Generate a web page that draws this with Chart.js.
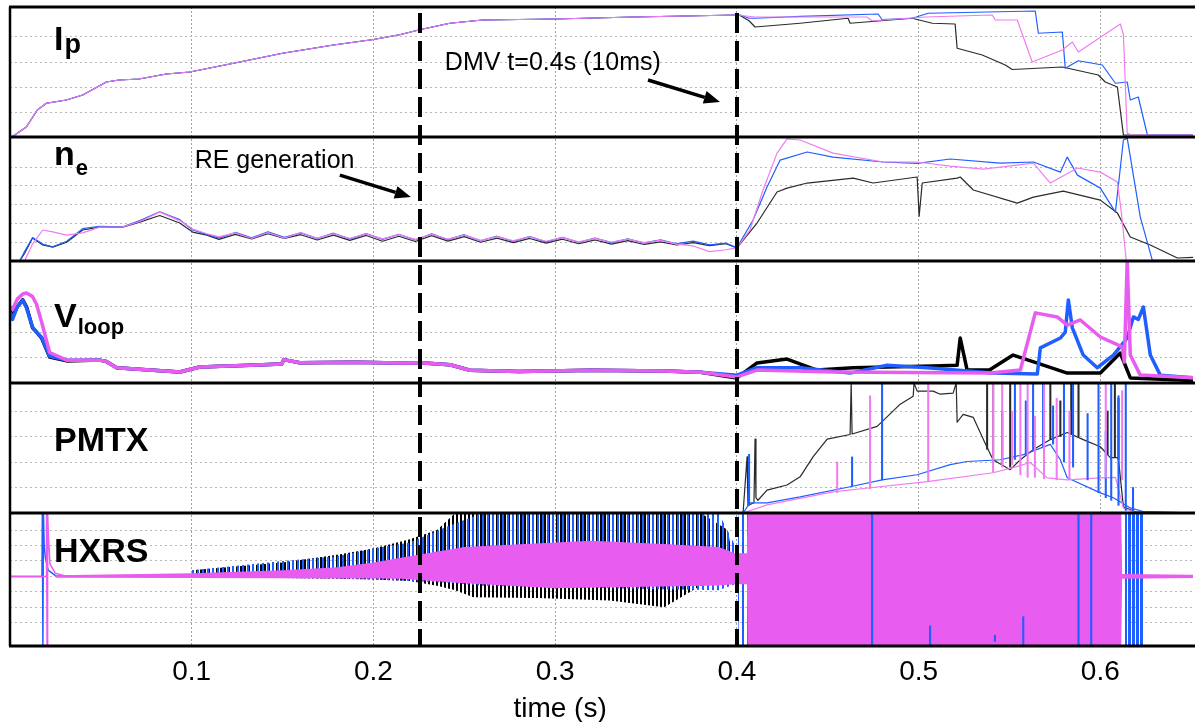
<!DOCTYPE html>
<html lang="en">
<head>
<meta charset="UTF-8">
<title>Discharge overview</title>
<script src="https://cdn.jsdelivr.net/npm/chart.js"></script>
<style>
body { margin: 0; background: #fff; }
#wrap { width: 1195px; height: 722px; }
</style>
</head>
<body>
<div id="wrap"><canvas id="shot" width="1195" height="722"></canvas></div>
<script>
// ---- time axis ----
const timeTicks = [0.1, 0.2, 0.3, 0.4, 0.5, 0.6];
const markerTimes = [0.2255, 0.4];

// ---- Ip ----
const ipRampTime = [0, 0.001, 0.009, 0.015, 0.020, 0.031, 0.040, 0.053, 0.060, 0.071, 0.086, 0.099, 0.123, 0.150, 0.178, 0.200, 0.215, 0.226, 0.242, 0.260, 0.300, 0.343, 0.400];
const ipRamp = [0, 0, 8, 21.6, 27, 29.6, 33.6, 44, 45.6, 46.4, 50.4, 52, 59, 67, 73.6, 78, 82, 86, 91, 93.6, 94.4, 96, 97.6];
const ipBlackTailTime = [0.402, 0.4067, 0.410, 0.4348, 0.4612, 0.4623, 0.4965, 0.5075, 0.5201, 0.5212, 0.535, 0.5477, 0.5515, 0.5791, 0.5989, 0.6027, 0.6094, 0.6127, 0.651];
const ipBlackTail = [97, 93, 88, 91, 95, 91, 95, 91, 90.4, 71, 65.6, 57.6, 54, 56, 49.6, 44, 40, 1.6, 1.6];
const ipBlueTailTime = [0.402, 0.4067, 0.410, 0.435, 0.4777, 0.4799, 0.4965, 0.5053, 0.5642, 0.5659, 0.5791, 0.5807, 0.5879, 0.6011, 0.6083, 0.6148, 0.6165, 0.6209, 0.6259, 0.651];
const ipBlueTail = [97.6, 95, 95, 96.5, 98.4, 94, 95, 99, 100.8, 83, 84, 55, 61, 57.6, 43, 44, 29.6, 32, 1.6, 1.6];
const ipMagTailTime = [0.410, 0.435, 0.4715, 0.4744, 0.5036, 0.5405, 0.5422, 0.5543, 0.5625, 0.5791, 0.5846, 0.5879, 0.611, 0.6127, 0.6148, 0.6176, 0.651];
const ipMagTail = [96, 96, 96, 93, 96, 97.6, 93.6, 93.6, 60, 69.6, 76, 68, 90.4, 82, 3, 1.6, 1.6];

// ---- ne ----
const neEarlyTime = [0, 0.0053, 0.008, 0.0124, 0.018, 0.0235, 0.0312, 0.040, 0.0493, 0.062, 0.0714, 0.0824, 0.0934, 0.1005, 0.1083];
const neBlackEarly = [0, 0, 0.4, 1.22, 0.85, 0.74, 1.0, 1.65, 1.8, 1.8, 2.07, 2.42, 2.02, 1.54, 1.38];
const neBlueEarly = [0, 0, 0.5, 1.25, 0.9, 0.76, 1.05, 1.72, 1.85, 1.82, 2.15, 2.62, 2.2, 1.65, 1.42];
const neMagEarly = [0, 0, 0, 0.9, 1.65, 1.55, 1.38, 1.5, 1.8, 1.82, 2.1, 2.6, 2.15, 1.7, 1.45];
const neOscTime = [0.115, 0.124, 0.133, 0.142, 0.151, 0.160, 0.169, 0.178, 0.187, 0.196, 0.205, 0.214, 0.223, 0.232, 0.241, 0.250, 0.259, 0.268, 0.277, 0.286, 0.295, 0.304, 0.313, 0.322, 0.331, 0.340, 0.349, 0.358, 0.367, 0.376, 0.385, 0.394, 0.400];
const neBlackOsc = [1.15, 1.42, 1.18, 1.45, 1.20, 1.40, 1.12, 1.38, 1.10, 1.36, 1.05, 1.32, 1.04, 1.35, 1.06, 1.30, 1.00, 1.22, 0.98, 1.20, 0.95, 1.16, 0.92, 1.12, 0.90, 1.08, 0.88, 1.02, 0.85, 0.98, 0.82, 0.92, 0.70];
const neBlueOsc = [1.22, 1.52, 1.24, 1.55, 1.26, 1.50, 1.20, 1.48, 1.18, 1.46, 1.15, 1.42, 1.12, 1.45, 1.14, 1.40, 1.08, 1.32, 1.05, 1.30, 1.02, 1.26, 1.00, 1.22, 0.98, 1.18, 0.96, 1.12, 0.92, 1.06, 0.86, 0.95, 0.70];
const neMagOsc = [1.28, 1.50, 1.20, 1.52, 1.22, 1.52, 1.22, 1.45, 1.20, 1.44, 1.18, 1.40, 1.15, 1.42, 1.16, 1.38, 1.10, 1.30, 1.08, 1.28, 1.05, 1.24, 1.02, 1.20, 1.00, 1.16, 0.98, 1.10, 0.90, 0.80, 0.50, 0.60, 0.70];
const neBlackTailTime = [0.4111, 0.4221, 0.4276, 0.4387, 0.4640, 0.4750, 0.4992, 0.5003, 0.5020, 0.5212, 0.5229, 0.5301, 0.5543, 0.5632, 0.5796, 0.600, 0.6094, 0.6165, 0.6275, 0.6424, 0.652];
const neBlackTail = [2.02, 3.67, 3.88, 4.15, 4.41, 4.15, 4.47, 2.39, 4.15, 4.41, 4.47, 3.78, 3.08, 3.4, 3.72, 3.24, 2.55, 1.28, 0.85, 0.16, 0.2];
const neBlueTailTime = [0.4089, 0.4166, 0.4238, 0.4387, 0.4529, 0.4805, 0.4992, 0.5174, 0.5449, 0.5632, 0.578, 0.5818, 0.5874, 0.600, 0.6083, 0.6127, 0.6148, 0.622, 0.6286, 0.652];
const neBlueTail = [2.18, 3.94, 5.37, 5.8, 5.53, 5.27, 5.2, 5.43, 5.21, 5.27, 4.73, 5.53, 4.57, 3.88, 2.6, 6.44, 6.54, 2.34, 0.05, 0];
const neMagTailTime = [0.4072, 0.4144, 0.4221, 0.4276, 0.4348, 0.4529, 0.4805, 0.4992, 0.5174, 0.5356, 0.5632, 0.5725, 0.5874, 0.600, 0.6094, 0.6116, 0.6143];
const neMagTail = [1.65, 3.78, 5.74, 6.5, 6.44, 5.74, 5.27, 5.27, 5.05, 4.89, 5.21, 4.15, 4.95, 4.73, 4.2, 2.55, 0];

// ---- Vloop ----
const vlEarlyTime = [0, 0.0014, 0.004, 0.007, 0.0091, 0.0124, 0.0146, 0.0174, 0.0218, 0.0312];
const vlBlackEarly = [2.9, 2.6, 3.0, 3.27, 3.0, 2.17, 2.0, 1.77, 1.02, 0.87];
const vlBlueEarly = [2.8, 2.5, 3.0, 3.25, 2.95, 2.2, 2.0, 1.8, 1.05, 0.9];
const vlMagEarly = [3.0, 2.9, 3.3, 3.5, 3.54, 3.4, 3.1, 2.4, 1.2, 0.9];
const vlMidTime = [0.0493, 0.053, 0.0587, 0.0769, 0.0934, 0.1044, 0.132, 0.1495, 0.1506, 0.1594, 0.19, 0.2145, 0.2256, 0.2421, 0.2531, 0.28, 0.32, 0.36, 0.38];
const vlMid = [0.9, 0.85, 0.6, 0.51, 0.43, 0.63, 0.7, 0.75, 0.92, 0.8, 0.82, 0.79, 0.8, 0.72, 0.5, 0.45, 0.5, 0.47, 0.42];
const vlBlackLateTime = [0.40, 0.4111, 0.4276, 0.444, 0.464, 0.508, 0.5212, 0.5229, 0.5267, 0.539, 0.552, 0.565, 0.5818, 0.60, 0.611, 0.6165, 0.652];
const vlBlackLate = [0.2, 0.79, 0.94, 0.51, 0.6, 0.67, 0.7, 1.77, 0.51, 0.51, 1.1, 0.79, 0.39, 0.39, 1.18, 0.2, 0.1];
const vlBlueLateTime = [0.40, 0.4111, 0.4348, 0.4623, 0.4827, 0.5047, 0.541, 0.5653, 0.567, 0.578, 0.5807, 0.5824, 0.5846, 0.5906, 0.5983, 0.6072, 0.6148, 0.6182, 0.6209, 0.6237, 0.6275, 0.633, 0.652];
const vlBlueLate = [0.31, 0.6, 0.6, 0.39, 0.7, 0.6, 0.39, 0.35, 1.38, 1.77, 2.0, 3.27, 2.17, 1.1, 0.6, 1.1, 1.77, 2.6, 2.5, 2.99, 1.1, 0.31, 0.2];
const vlMagLateTime = [0.40, 0.4111, 0.4529, 0.5394, 0.556, 0.5642, 0.5763, 0.5818, 0.589, 0.60, 0.6121, 0.6132, 0.6148, 0.6165, 0.622, 0.652];
const vlMagLate = [0.24, 0.51, 0.43, 0.39, 0.51, 2.76, 2.6, 2.28, 2.48, 1.81, 1.42, 0.83, 4.8, 1.1, 0.31, 0.2];

// ---- PMTX ----
const pmBlackTime = [0, 0.4034, 0.4056, 0.4061, 0.4094, 0.4100, 0.4105, 0.4116, 0.4166, 0.4276, 0.4348, 0.4419, 0.4497, 0.4623, 0.4629, 0.4634, 0.4772, 0.4899, 0.4970, 0.4975, 0.4992, 0.5080, 0.5119, 0.5190, 0.5207, 0.5212, 0.5245, 0.5301, 0.5377, 0.5410, 0.5504, 0.5560, 0.5632, 0.5725, 0.5818, 0.5906, 0.6000, 0.6055, 0.6099, 0.6127, 0.6193, 0.652];
const pmBlack = [0, 0, 2.2, 0.3, 0.4, 2.9, 0.6, 0.5, 0.9, 1.1, 1.42, 2.2, 2.9, 3.08, 5.1, 3.1, 3.4, 4.27, 4.58, 5.1, 4.78, 4.78, 4.66, 4.7, 5.1, 3.56, 3.87, 3.75, 2.57, 2.09, 1.7, 2.09, 2.49, 2.88, 3.16, 2.88, 2.6, 2.17, 2.17, 0.24, 0.05, 0];
const pmBlueTime = [0, 0.4034, 0.4072, 0.4166, 0.4348, 0.4623, 0.4799, 0.4992, 0.5174, 0.5267, 0.5449, 0.5577, 0.5725, 0.578, 0.5818, 0.6, 0.6072, 0.6165, 0.624, 0.652];
const pmBlue = [0, 0, 0.4, 0.4, 0.63, 1.03, 1.3, 1.5, 1.9, 2.02, 2.09, 2.29, 2.69, 2.09, 1.38, 0.79, 0.6, 0.2, 0.05, 0];
const pmMagTime = [0, 0.4034, 0.4166, 0.4529, 0.4733, 0.5047, 0.541, 0.554, 0.5614, 0.5708, 0.5818, 0.6, 0.6083, 0.6127, 0.6193, 0.652];
const pmMag = [0, 0, 0.32, 0.83, 0.99, 1.23, 1.58, 1.82, 1.98, 1.38, 1.3, 1.38, 1.4, 0.2, 0.02, 0];
const pmBlackSpikeTime = [0.5377, 0.5410, 0.5460, 0.5504, 0.5725, 0.5780, 0.5840, 0.5880, 0.6040, 0.6080, 0.6100];
const pmBlackSpikeLo = [2.5, 2.0, 1.9, 1.8, 2.9, 3.0, 3.1, 3.0, 2.3, 2.2, 2.1];
const pmBlackSpikeHi = [5.1, 5.1, 4.0, 5.1, 5.1, 4.4, 5.1, 5.1, 4.0, 5.1, 4.5];
const pmBlueSpikeTime = [0.4067, 0.4634, 0.4799, 0.553, 0.559, 0.563, 0.5685, 0.574, 0.580, 0.585, 0.593, 0.599, 0.603, 0.606, 0.610, 0.614, 0.618];
const pmBlueSpikeLo = [0.3, 1.05, 1.3, 2.1, 2.3, 2.5, 2.6, 2.7, 2.0, 1.8, 1.3, 0.8, 0.6, 0.5, 0.3, 0.1, 0.1];
const pmBlueSpikeHi = [2.3, 2.2, 5.1, 5.1, 4.4, 5.1, 5.1, 4.2, 5.1, 5.1, 3.9, 5.1, 3.2, 5.1, 4.6, 5.1, 1.0];
const pmMagSpikeTime = [0.4552, 0.4733, 0.5053, 0.5410, 0.5460, 0.5515, 0.5560, 0.5600, 0.5640, 0.5690, 0.5760, 0.5830, 0.6030, 0.6120];
const pmMagSpikeLo = [0.8, 0.95, 1.25, 1.6, 1.8, 1.9, 1.5, 1.4, 1.4, 1.35, 1.3, 1.3, 1.38, 1.3];
const pmMagSpikeHi = [2.0, 4.6, 5.1, 5.1, 5.1, 4.0, 5.1, 5.1, 3.8, 5.1, 4.5, 4.0, 5.1, 4.8];

// ---- HXRS ----
const hxBlueTime = [0, 0.0176, 0.0178, 0.0181, 0.0184, 0.0188, 0.0195, 0.021, 0.025, 0.652];
const hxBlue = [0, 0, 4.1, -4.5, 4.1, 2.0, 1.2, 0.4, 0.05, 0];
const hxMagTime = [0, 0.0199, 0.0201, 0.0204, 0.0207, 0.0212, 0.022, 0.025, 0.03, 0.652];
const hxMag = [0, 0, 4.1, -4.5, 4.1, 2.5, 0.8, 0.2, 0.05, 0.02];
const hxMagBandTime = [0.025, 0.10, 0.15, 0.18, 0.20, 0.215, 0.25, 0.30, 0.32, 0.36, 0.39, 0.399, 0.4055, 0.406, 0.6115, 0.612, 0.652];
const hxMagHi = [0.08, 0.2, 0.4, 0.6, 0.9, 1.2, 1.9, 2.2, 2.3, 2.1, 1.9, 1.5, 1.5, 4.1, 4.1, 0.15, 0.1];
const hxMagLo = [-0.08, -0.1, -0.12, -0.13, -0.13, -0.15, -0.45, -0.77, -0.72, -0.65, -0.58, -0.5, -0.5, -4.5, -4.5, -0.15, -0.1];
const hxBlackBandTime = [0.10, 0.15, 0.18, 0.20, 0.22, 0.235, 0.245, 0.255, 0.29, 0.33, 0.36, 0.37, 0.38, 0.395, 0.399];
const hxBlackHi = [0.4, 0.9, 1.4, 1.8, 2.4, 3.0, 4.1, 4.1, 4.1, 4.1, 4.1, 4.1, 4.1, 3.0, 0.3];
const hxBlackLo = [-0.05, -0.1, -0.15, -0.2, -0.3, -0.6, -0.9, -1.35, -1.4, -1.55, -2.0, -1.3, -0.6, -0.4, -0.2];
const hxBlueBandTime = [0.10, 0.15, 0.18, 0.20, 0.22, 0.24, 0.26, 0.39, 0.399, 0.4005, 0.401, 0.4125, 0.413];
const hxBlueHi = [0.4, 1.0, 1.3, 1.8, 2.2, 3.2, 4.1, 4.1, 2.0, 2.0, 4.1, 4.1, 0];
const hxBlueLo = [-0.05, -0.1, -0.15, -0.2, -0.3, -0.4, -0.6, -0.9, -0.5, -0.5, -4.5, -4.5, 0];
const hxBlueEndTime = [0.6135, 0.618, 0.6205, 0.624];
const hxBlueEndHi = [4.1, 4.1, 4.1, 4.1];
const hxBlueEndLo = [-4.5, -4.5, -4.5, -4.5];
const hxBlueSpikeTime = [0.4744, 0.5063, 0.542, 0.5576, 0.588, 0.595];
const hxBlueSpikeLo = [-4.5, -4.5, -4.2, -4.5, -4.5, -4.5];
const hxBlueSpikeHi = [4.1, -3.2, -3.8, -2.6, 4.1, 4.1];

const FONT = "'Liberation Sans', Arial, sans-serif";
const BLACK = '#2a2a2a';
const BLUE = '#1f5fff';
const PINK = '#f07cf0';
const MAGENTA = '#e85cef';

const canvas = document.getElementById('shot');
const ctx2d = canvas.getContext('2d');

function stripes(color, period, width, offset) {
    const c = document.createElement('canvas');
    c.width = period; c.height = 2;
    const g = c.getContext('2d');
    g.fillStyle = color;
    g.fillRect(offset, 0, width, 2);
    return ctx2d.createPattern(c, 'repeat');
}

function pts(ts, vs) {
    return ts.map((t, i) => ({ x: t, y: vs[i] }));
}

function line(ts, vs, axis, color, width) {
    return { type: 'line', data: pts(ts, vs), yAxisID: axis, borderColor: color, borderWidth: width,
             pointRadius: 0, fill: false, tension: 0, borderJoinStyle: 'round' };
}

// hi + lo pair, area between them filled
function band(ts, hi, lo, axis, fillStyle) {
    return [
        { type: 'line', data: pts(ts, hi), yAxisID: axis, borderWidth: 0, pointRadius: 0, tension: 0,
          fill: '+1', backgroundColor: fillStyle },
        { type: 'line', data: pts(ts, lo), yAxisID: axis, borderWidth: 0, pointRadius: 0, tension: 0, fill: false }
    ];
}

function spikes(ts, lo, hi, axis, color) {
    return { type: 'bar', data: ts.map((t, i) => ({ x: t, y: [lo[i], hi[i]] })), yAxisID: axis,
             backgroundColor: color, barThickness: 1.4, grouped: false };
}

const datasets = [
    // Ip
    line(ipRampTime.concat(ipMagTailTime), ipRamp.concat(ipMagTail), 'yIp', PINK, 1.2),
    line(ipRampTime.concat(ipBlueTailTime), ipRamp.concat(ipBlueTail), 'yIp', BLUE, 1.2),
    line(ipRampTime.concat(ipBlackTailTime), ipRamp.concat(ipBlackTail), 'yIp', BLACK, 1.2),
    // ne
    line(neEarlyTime.concat(neOscTime, neMagTailTime), neMagEarly.concat(neMagOsc, neMagTail), 'yNe', PINK, 1.2),
    line(neEarlyTime.concat(neOscTime, neBlueTailTime), neBlueEarly.concat(neBlueOsc, neBlueTail), 'yNe', BLUE, 1.2),
    line(neEarlyTime.concat(neOscTime, neBlackTailTime), neBlackEarly.concat(neBlackOsc, neBlackTail), 'yNe', BLACK, 1.2),
    // Vloop
    line(vlEarlyTime.concat(vlMidTime, vlMagLateTime), vlMagEarly.concat(vlMid, vlMagLate), 'yVl', MAGENTA, 3.5),
    line(vlEarlyTime.concat(vlMidTime, vlBlueLateTime), vlBlueEarly.concat(vlMid, vlBlueLate), 'yVl', BLUE, 3.5),
    line(vlEarlyTime.concat(vlMidTime, vlBlackLateTime), vlBlackEarly.concat(vlMid, vlBlackLate), 'yVl', '#000', 3.5),
    // PMTX
    spikes(pmMagSpikeTime, pmMagSpikeLo, pmMagSpikeHi, 'yPm', PINK),
    spikes(pmBlueSpikeTime, pmBlueSpikeLo, pmBlueSpikeHi, 'yPm', BLUE),
    spikes(pmBlackSpikeTime, pmBlackSpikeLo, pmBlackSpikeHi, 'yPm', BLACK),
    line(pmMagTime, pmMag, 'yPm', PINK, 1.2),
    line(pmBlueTime, pmBlue, 'yPm', BLUE, 1.2),
    line(pmBlackTime, pmBlack, 'yPm', BLACK, 1.2),
    // HXRS
    spikes(hxBlueSpikeTime, hxBlueSpikeLo, hxBlueSpikeHi, 'yHx', BLUE),
    line(hxMagTime, hxMag, 'yHx', MAGENTA, 1.5),
    ...band(hxMagBandTime, hxMagHi, hxMagLo, 'yHx', MAGENTA),
    ...band(hxBlueEndTime, hxBlueEndHi, hxBlueEndLo, 'yHx', stripes(BLUE, 4, 3, 0)),
    line(hxBlueTime, hxBlue, 'yHx', BLUE, 1.5),
    ...band(hxBlueBandTime, hxBlueHi, hxBlueLo, 'yHx', stripes(BLUE, 5, 2, 2)),
    ...band(hxBlackBandTime, hxBlackHi, hxBlackLo, 'yHx', stripes('#000', 4, 2, 0))
];

function panelAxis(min, max, step, weight) {
    return {
        type: 'linear', position: 'left', stack: 'panels', stackWeight: weight,
        min: min, max: max,
        ticks: { display: false, stepSize: step },
        grid: { color: '#b8b8b8', lineWidth: 1, drawTicks: false },
        border: { display: false, dash: [2, 3] }
    };
}

const panelLabels = [
    { axis: 'yIp', main: 'I', sub: 'p', dy: 43, subDy: 46, subSize: 27 },
    { axis: 'yNe', main: 'n', sub: 'e', dy: 28, subDy: 38, subSize: 22 },
    { axis: 'yVl', main: 'V', sub: 'loop', dy: 66, subDy: 73, subSize: 22 },
    { axis: 'yPm', main: 'PMTX', sub: '', dy: 68, subDy: 0, subSize: 22 },
    { axis: 'yHx', main: 'HXRS', sub: '', dy: 49, subDy: 0, subSize: 22 }
];

const notes = [
    { text: 'RE generation', axis: 'yNe', at: [0.1016, 4.95], from: [0.1815, 4.57], to: [0.2206, 3.4] },
    { text: 'DMV t=0.4s (10ms)', axis: 'yIp', at: [0.2393, 53.6], from: [0.3511, 45.6], to: [0.3907, 28] }
];

function arrow(ctx, x1, y1, x2, y2) {
    const ang = Math.atan2(y2 - y1, x2 - x1);
    const len = 16, half = 6.5;
    const bx = x2 - len * Math.cos(ang), by = y2 - len * Math.sin(ang);
    ctx.beginPath();
    ctx.moveTo(x1, y1);
    ctx.lineTo(bx, by);
    ctx.lineWidth = 3.5;
    ctx.stroke();
    ctx.beginPath();
    ctx.moveTo(x2, y2);
    ctx.lineTo(bx + half * Math.sin(ang), by - half * Math.cos(ang));
    ctx.lineTo(bx - half * Math.sin(ang), by + half * Math.cos(ang));
    ctx.closePath();
    ctx.fill();
}

const decor = {
    id: 'decor',
    // keep each trace inside its own panel
    beforeDatasetDraw(chart, args) {
        const ys = args.meta.yScale, a = chart.chartArea, ctx = chart.ctx;
        ctx.save();
        ctx.beginPath();
        ctx.rect(a.left, ys.top, a.right - a.left, ys.bottom - ys.top);
        ctx.clip();
    },
    afterDatasetDraw(chart) {
        chart.ctx.restore();
    },
    afterDatasetsDraw(chart) {
        const { ctx, chartArea: a, scales } = chart;
        const xs = scales.x;
        ctx.save();
        ctx.strokeStyle = '#000';
        ctx.fillStyle = '#000';

        // dashed event markers
        ctx.lineWidth = 4;
        ctx.setLineDash([20, 8]);
        ctx.lineDashOffset = 22;
        markerTimes.forEach(t => {
            const px = Math.round(xs.getPixelForValue(t));
            ctx.beginPath();
            ctx.moveTo(px, a.top);
            ctx.lineTo(px, a.bottom);
            ctx.stroke();
        });
        ctx.setLineDash([]);

        // panel frames
        ctx.lineWidth = 3;
        ['yIp', 'yNe', 'yVl', 'yPm', 'yHx'].forEach(id => {
            const y = scales[id].top;
            ctx.beginPath();
            ctx.moveTo(a.left - 1, y);
            ctx.lineTo(chart.width, y);
            ctx.stroke();
        });
        ctx.beginPath();
        ctx.moveTo(a.left - 1, a.bottom);
        ctx.lineTo(chart.width, a.bottom);
        ctx.stroke();
        ctx.lineWidth = 2.5;
        ctx.beginPath();
        ctx.moveTo(a.left, a.top);
        ctx.lineTo(a.left, a.bottom);
        ctx.stroke();

        // panel names
        ctx.textBaseline = 'alphabetic';
        panelLabels.forEach(p => {
            const s = scales[p.axis];
            const x0 = a.left + 44;
            ctx.font = 'bold 34px ' + FONT;
            ctx.fillText(p.main, x0, s.top + p.dy);
            if (p.sub) {
                const w = ctx.measureText(p.main).width;
                ctx.font = 'bold ' + p.subSize + 'px ' + FONT;
                ctx.fillText(p.sub, x0 + w + 1, s.top + p.subDy);
            }
        });

        // annotations
        ctx.font = '25px ' + FONT;
        notes.forEach(n => {
            const ys = scales[n.axis];
            ctx.fillText(n.text, xs.getPixelForValue(n.at[0]), ys.getPixelForValue(n.at[1]));
            arrow(ctx, xs.getPixelForValue(n.from[0]), ys.getPixelForValue(n.from[1]),
                  xs.getPixelForValue(n.to[0]), ys.getPixelForValue(n.to[1]));
        });

        // axis title, sits a little left of centre in the original
        ctx.font = '28px ' + FONT;
        ctx.textAlign = 'center';
        ctx.fillText('time (s)', a.left + (a.right - a.left) * 0.465, chart.height - 5);
        ctx.restore();
    }
};

new Chart(canvas, {
    type: 'line',
    data: { datasets: datasets },
    options: {
        responsive: false,
        animation: false,
        devicePixelRatio: 1,
        events: [],
        layout: { padding: { left: 10, right: 2, top: 7, bottom: 24 } },
        plugins: { legend: { display: false }, tooltip: { enabled: false } },
        scales: {
            x: {
                type: 'linear', min: 0, max: 0.651, offset: false,
                afterBuildTicks: s => { s.ticks = timeTicks.map(v => ({ value: v })); },
                ticks: { font: { family: FONT, size: 28, lineHeight: 1 }, color: '#000', padding: 12, maxRotation: 0,
                         autoSkip: false, callback: v => v.toFixed(1) },
                grid: { color: '#a0a0a0', drawTicks: false, offset: false },
                border: { display: false, dash: [2, 2] },
                title: { display: false }
            },
            yHx: panelAxis(-4.5, 4.1, 1, 133),
            yPm: panelAxis(0, 5.1, 1, 130),
            yVl: panelAxis(0, 4.8, 1, 122),
            yNe: panelAxis(0, 6.6, 1, 124),
            yIp: panelAxis(0, 104, 20, 130)
        }
    },
    plugins: [decor]
});
</script>
</body>
</html>
